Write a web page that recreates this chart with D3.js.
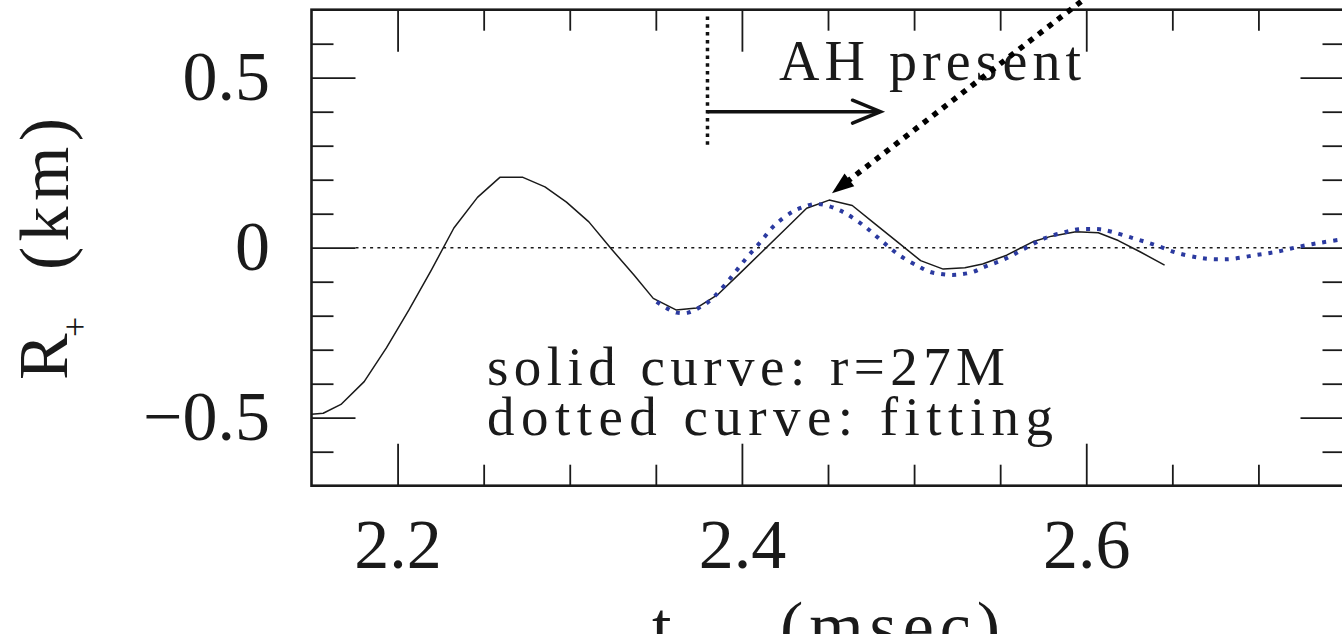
<!DOCTYPE html>
<html><head><meta charset="utf-8">
<script src="https://cdn.jsdelivr.net/npm/d3@7"></script>
<style>html,body{margin:0;padding:0;background:#fff;overflow:hidden}</style>
</head><body><svg id="c" width="1342" height="634"></svg>
<script>
// ---- data ----
const solidT = [2.1500,2.1568,2.1671,2.1806,2.1936,2.2066,2.2196,2.2327,2.2464,2.2594,2.2728,2.2856,2.2981,2.3111,2.3242,2.3373,2.3485,2.3617,2.3737,2.3862,2.3991,2.4119,2.4247,2.4376,2.4507,2.4641,2.4773,2.4903,2.5038,2.5169,2.5295,2.5398,2.5538,2.5692,2.5799,2.5940,2.6070,2.6186,2.6312,2.6455];
const solidR = [-0.490,-0.487,-0.461,-0.394,-0.294,-0.183,-0.066,0.058,0.148,0.207,0.207,0.179,0.134,0.076,-0.004,-0.080,-0.149,-0.183,-0.177,-0.137,-0.074,-0.011,0.052,0.116,0.140,0.124,0.070,0.017,-0.038,-0.063,-0.059,-0.048,-0.022,0.018,0.034,0.047,0.044,0.021,-0.012,-0.051];
const fitT = [2.3505,2.3563,2.3621,2.3688,2.3746,2.3798,2.3849,2.3936,2.4017,2.4105,2.4188,2.4295,2.4353,2.4414,2.4478,2.4540,2.4602,2.4710,2.4812,2.4914,2.5030,2.5092,2.5150,2.5218,2.5276,2.5344,2.5402,2.5528,2.5644,2.5761,2.5886,2.5954,2.6017,2.6080,2.6148,2.6273,2.6399,2.6525,2.6651,2.6715,2.6781,2.6845,2.6980,2.7106,2.7236,2.7364,2.7493];
const fitR = [-0.159,-0.178,-0.191,-0.191,-0.178,-0.162,-0.139,-0.088,-0.036,0.015,0.065,0.106,0.119,0.128,0.126,0.116,0.101,0.064,0.020,-0.022,-0.056,-0.071,-0.077,-0.080,-0.078,-0.071,-0.058,-0.033,-0.002,0.028,0.047,0.054,0.055,0.054,0.047,0.028,0.008,-0.015,-0.029,-0.033,-0.034,-0.033,-0.022,-0.012,0.003,0.015,0.025];
const xMajorTicks = [2.2, 2.4, 2.6];
const xMinorTicks = [2.25, 2.3, 2.35, 2.45, 2.5, 2.55, 2.65, 2.7];
const yMajorTicks = [-0.5, 0, 0.5];
const yMinorTicks = [-0.6, -0.4, -0.3, -0.2, -0.1, 0.1, 0.2, 0.3, 0.4, 0.6];
const xDomain = [2.15, 2.75];
const yDomain = [-0.7, 0.7];
// annotations (data coords)
const ahLine = {t: 2.38, r0: 0.30, r1: 0.68};
const ahArrow = {t0: 2.38, t1: 2.4805, r: 0.40};
const bigArrow = {t0: 2.636, r0: 0.876, t1: 2.4523, r1: 0.160};
const ahText = "AH present";
const legendLines = ["solid curve: r=27M", "dotted curve: fitting"];

// ---- drawing ----
const svg = d3.select("#c");
svg.append("rect").attr("width",1342).attr("height",634).attr("fill","#fff");
const FONT = "'Liberation Serif', 'DejaVu Serif', serif";
const INK = "#1a1a1a";
const L = 311.5, R = 1344.5, T = 9.7, B = 485.7;
const x = d3.scaleLinear().domain(xDomain).range([L, R]);
const y = d3.scaleLinear().domain(yDomain).range([B, T]);

function styleAxis(g){
  g.select(".domain").remove();
  g.selectAll("line").attr("stroke", INK).attr("stroke-width", 1.8);
  g.attr("font-family", FONT).attr("font-size", 70);
  g.selectAll("text").attr("fill", INK);
}
// bottom
svg.append("g").attr("transform",`translate(0,${B})`)
  .call(d3.axisBottom(x).tickValues(xMinorTicks).tickSize(-21).tickSizeOuter(0).tickFormat("")).call(styleAxis);
svg.append("g").attr("transform",`translate(0,${B})`)
  .call(d3.axisBottom(x).tickValues(xMajorTicks).tickSize(-42).tickSizeOuter(0).tickFormat(d3.format(".1f")))
  .call(styleAxis).call(g=>g.selectAll("text").attr("y",82).attr("dy",null));
// top
svg.append("g").attr("transform",`translate(0,${T})`)
  .call(d3.axisTop(x).tickValues(xMinorTicks).tickSize(-21).tickSizeOuter(0).tickFormat("")).call(styleAxis);
svg.append("g").attr("transform",`translate(0,${T})`)
  .call(d3.axisTop(x).tickValues(xMajorTicks).tickSize(-42).tickSizeOuter(0).tickFormat("")).call(styleAxis);
// left
svg.append("g").attr("transform",`translate(${L},0)`)
  .call(d3.axisLeft(y).tickValues(yMinorTicks).tickSize(-22).tickSizeOuter(0).tickFormat("")).call(styleAxis);
svg.append("g").attr("transform",`translate(${L},0)`)
  .call(d3.axisLeft(y).tickValues(yMajorTicks).tickSize(-44).tickSizeOuter(0).tickFormat(d3.format(".1~f")))
  .call(styleAxis).call(g=>g.selectAll("text").attr("x",-41.5).attr("y",22).attr("dy",null));
// right
svg.append("g").attr("transform",`translate(${R},0)`)
  .call(d3.axisRight(y).tickValues(yMinorTicks).tickSize(-22).tickSizeOuter(0).tickFormat("")).call(styleAxis);
svg.append("g").attr("transform",`translate(${R},0)`)
  .call(d3.axisRight(y).tickValues(yMajorTicks).tickSize(-44).tickSizeOuter(0).tickFormat("")).call(styleAxis);

// frame
svg.append("rect").attr("x",L).attr("y",T).attr("width",R-L).attr("height",B-T)
  .attr("fill","none").attr("stroke",INK).attr("stroke-width",2.6);

// zero line
svg.append("line").attr("x1",x(xDomain[0])+44).attr("x2",x(xDomain[1])-44).attr("y1",y(0)).attr("y2",y(0))
  .attr("stroke",INK).attr("stroke-width",1.4).attr("stroke-dasharray","3,4.3");

// curves
const solid = solidT.map((t,i)=>[t, solidR[i]]);
const fit = fitT.map((t,i)=>[t, fitR[i]]);
svg.append("path").datum(solid)
  .attr("d", d3.line().x(d=>x(d[0])).y(d=>y(d[1])))
  .attr("fill","none").attr("stroke",INK).attr("stroke-width",1.5).attr("stroke-linejoin","round");
svg.append("path").datum(fit)
  .attr("d", d3.line().curve(d3.curveCatmullRom).x(d=>x(d[0])).y(d=>y(d[1])))
  .attr("fill","none").attr("stroke","#2b3aa0").attr("stroke-width",4).attr("stroke-dasharray","4,7");

// AH marker: vertical dotted line
svg.append("line").attr("x1",x(ahLine.t)).attr("x2",x(ahLine.t)).attr("y1",y(ahLine.r1)).attr("y2",y(ahLine.r0))
  .attr("stroke","#111").attr("stroke-width",3.5).attr("stroke-dasharray","3.5,4.3");
// AH arrow
const ax0 = x(ahArrow.t0), ax1 = x(ahArrow.t1), ay = y(ahArrow.r);
svg.append("line").attr("x1",ax0).attr("x2",ax1-2).attr("y1",ay).attr("y2",ay)
  .attr("stroke","#111").attr("stroke-width",3.5);
svg.append("path").attr("d",`M${ax1-28},${ay-11.5}L${ax1},${ay}L${ax1-28},${ay+11.5}`)
  .attr("fill","none").attr("stroke","#111").attr("stroke-width",3.5).attr("stroke-linecap","round").attr("stroke-linejoin","miter");
svg.append("text").attr("x",779).attr("y",80).attr("font-family",FONT).attr("font-size",56)
  .attr("fill",INK).attr("textLength",302).attr("lengthAdjust","spacing").text(ahText);

// big dotted arrow
{
  const px0 = x(bigArrow.t0), py0 = y(bigArrow.r0), px1 = x(bigArrow.t1), py1 = y(bigArrow.r1);
  const dx = px1-px0, dy = py1-py0, len = Math.hypot(dx,dy), ux = dx/len, uy = dy/len;
  const HL = 22, HW = 8;
  const bx = px1-ux*HL, by = py1-uy*HL;
  svg.append("line").attr("x1",px0).attr("y1",py0).attr("x2",bx+ux*2).attr("y2",by+uy*2)
    .attr("stroke","#000").attr("stroke-width",5.5).attr("stroke-dasharray","5.5,6.6");
  svg.append("path").attr("d",`M${px1},${py1}L${bx-uy*HW},${by+ux*HW}L${bx+uy*HW},${by-ux*HW}Z`).attr("fill","#000");
}

// legend text
svg.append("text").attr("x",487).attr("y",385).attr("font-family",FONT).attr("font-size",55)
  .attr("fill",INK).attr("textLength",518).attr("lengthAdjust","spacing").text(legendLines[0]);
svg.append("text").attr("x",487).attr("y",435).attr("font-family",FONT).attr("font-size",55)
  .attr("fill",INK).attr("textLength",566).attr("lengthAdjust","spacing").text(legendLines[1]);

// axis titles
svg.append("text").attr("x",652).attr("y",650).attr("font-family",FONT).attr("font-size",70).attr("fill",INK).text("t");
svg.append("text").attr("x",780).attr("y",650).attr("font-family",FONT).attr("font-size",70).attr("fill",INK)
  .attr("textLength",220).attr("lengthAdjust","spacing").text("(msec)");
const yt = svg.append("g").attr("font-family",FONT).attr("fill",INK);
yt.append("text").attr("transform","translate(67,380) rotate(-90)").attr("font-size",70).text("R");
yt.append("text").attr("transform","translate(87,337) rotate(-90)").attr("font-size",36).text("+");
yt.append("text").attr("transform","translate(68,270) rotate(-90)").attr("font-size",70)
  .attr("textLength",152).attr("lengthAdjust","spacing").text("(km)");
</script></body></html>
